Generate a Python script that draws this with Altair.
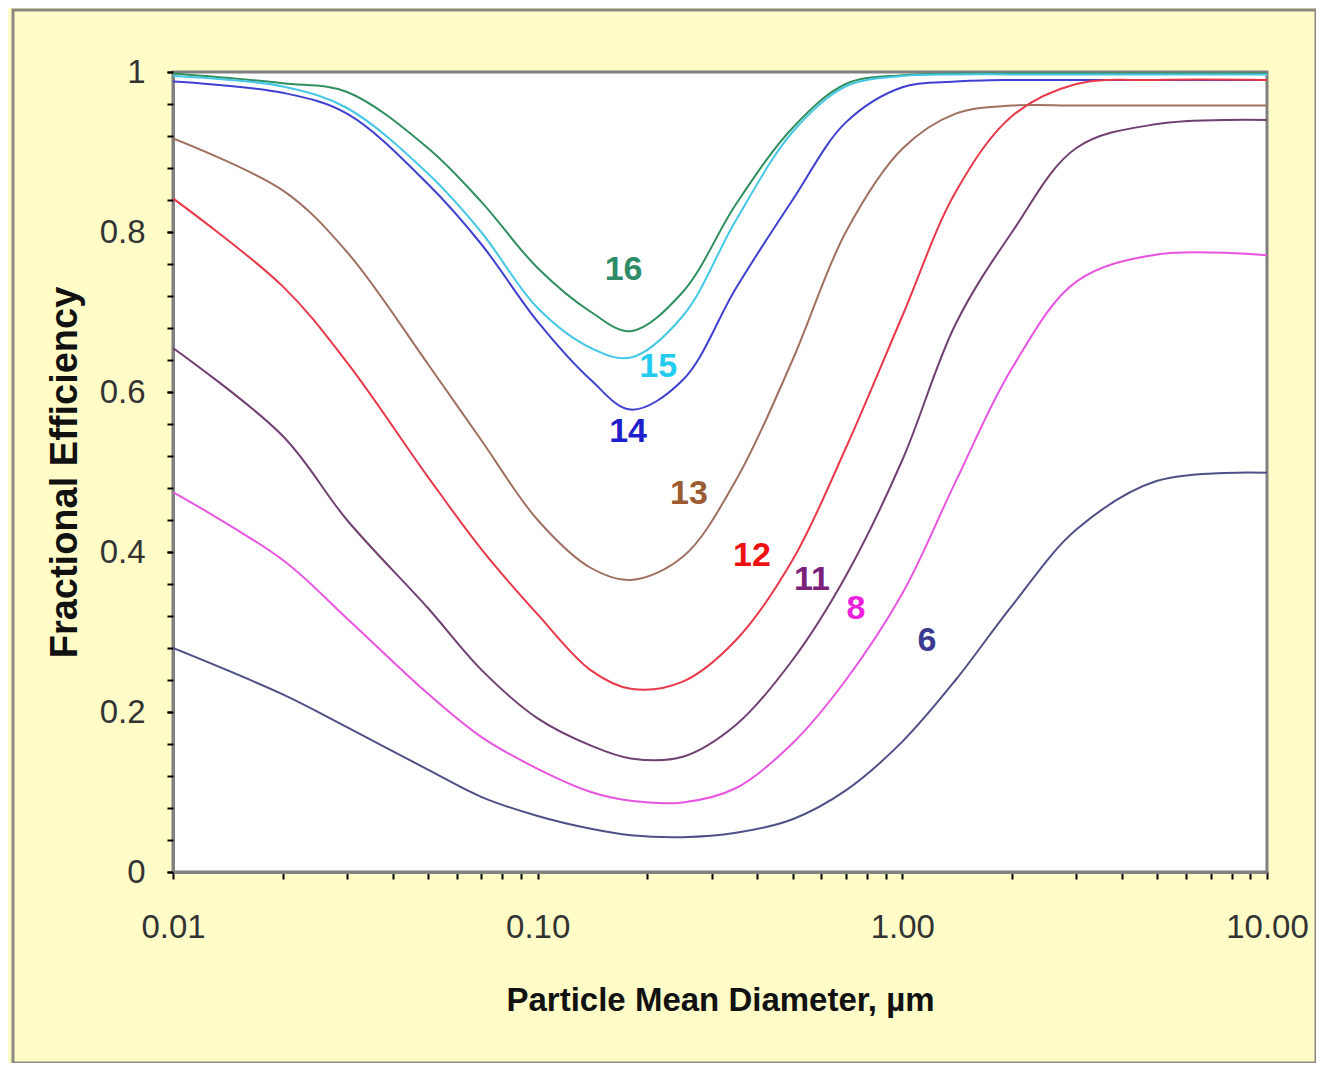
import altair as alt
import pandas as pd

# ---------------- data ----------------
diam = [0.01, 0.02, 0.03, 0.05, 0.07, 0.1, 0.14, 0.18, 0.25, 0.35,
        0.5, 0.7, 1.0, 1.4, 2.0, 3.0, 5.0, 10.0]

eff_16 = [0.998, 0.986, 0.975, 0.905, 0.838, 0.755, 0.700, 0.676, 0.725, 0.835,
          0.930, 0.985, 0.996, 0.998, 0.998, 0.998, 0.998, 0.998]
eff_15 = [0.995, 0.982, 0.955, 0.873, 0.800, 0.705, 0.655, 0.643, 0.695, 0.815,
          0.925, 0.982, 0.995, 0.997, 0.997, 0.997, 0.997, 0.997]
eff_14 = [0.988, 0.974, 0.948, 0.860, 0.785, 0.688, 0.615, 0.578, 0.615, 0.730,
          0.840, 0.937, 0.981, 0.988, 0.990, 0.990, 0.990, 0.990]
eff_13 = [0.917, 0.852, 0.775, 0.635, 0.540, 0.440, 0.380, 0.365, 0.394, 0.490,
          0.640, 0.800, 0.904, 0.948, 0.958, 0.958, 0.958, 0.958]
eff_12 = [0.842, 0.732, 0.637, 0.494, 0.404, 0.322, 0.252, 0.229, 0.238, 0.290,
          0.390, 0.530, 0.695, 0.850, 0.945, 0.985, 0.990, 0.990]
eff_11 = [0.655, 0.545, 0.440, 0.330, 0.253, 0.192, 0.158, 0.142, 0.144, 0.184,
          0.265, 0.370, 0.515, 0.685, 0.800, 0.905, 0.935, 0.940]
eff_8 = [0.475, 0.390, 0.317, 0.223, 0.169, 0.129, 0.100, 0.089, 0.087, 0.105,
         0.161, 0.240, 0.348, 0.488, 0.630, 0.738, 0.772, 0.771]
eff_6 = [0.280, 0.222, 0.181, 0.128, 0.094, 0.070, 0.054, 0.046, 0.0435, 0.049,
         0.066, 0.102, 0.163, 0.240, 0.333, 0.428, 0.489, 0.499]

series_names = ["16", "15", "14", "13", "12", "11", "8", "6"]
series_values = [eff_16, eff_15, eff_14, eff_13, eff_12, eff_11, eff_8, eff_6]
line_colors = ["#2F8F5F", "#45C8E6", "#4040D0", "#A07060",
               "#E8384A", "#704070", "#E855E0", "#505088"]

# curve labels
label_text = ["16", "15", "14", "13", "12", "11", "8", "6"]
label_x = [0.172, 0.214, 0.177, 0.26, 0.387, 0.565, 0.746, 1.168]
label_y = [0.7525, 0.631, 0.55, 0.4725, 0.395, 0.365, 0.329, 0.289]
label_colors = ["#2E8B67", "#22CCEE", "#1F1FCC", "#9B5A32",
                "#EE1111", "#7B207B", "#EE22DD", "#3A3A90"]

x_ticks = [0.01, 0.02, 0.03, 0.04, 0.05, 0.06, 0.07, 0.08, 0.09,
           0.1, 0.2, 0.3, 0.4, 0.5, 0.6, 0.7, 0.8, 0.9,
           1, 2, 3, 4, 5, 6, 7, 8, 9, 10]
x_labelled = [0.01, 0.1, 1, 10]
y_major = [0, 0.2, 0.4, 0.6, 0.8, 1]
y_major_labels = ["0", "0.2", "0.4", "0.6", "0.8", "1"]
y_minor = [0, 0.04, 0.08, 0.12, 0.16, 0.2, 0.24, 0.28, 0.32, 0.36, 0.4,
           0.44, 0.48, 0.52, 0.56, 0.6, 0.64, 0.68, 0.72, 0.76, 0.8,
           0.84, 0.88, 0.92, 0.96, 1]

# ---------------- tables ----------------
rows = []
for name, vals in zip(series_names, series_values):
    for i, (d, v) in enumerate(zip(diam, vals)):
        rows.append({"series": name, "d": d, "eff": v, "order": i})
lines_df = pd.DataFrame(rows)
labels_df = pd.DataFrame({"text": label_text, "d": label_x, "eff": label_y,
                          "series": series_names})

FONT = "Liberation Sans, Arial, sans-serif"
W, H = 1094, 800

y_label_expr = ("[" + ", ".join("'" + s + "'" for s in y_major_labels) + "]"
                "[indexof(" + str(y_major) + ", datum.value)]")

x_enc = alt.X("d:Q",
              scale=alt.Scale(type="log", domain=[0.01, 10], nice=False),
              axis=alt.Axis(values=x_ticks,
                            labelExpr="indexof(" + str(x_labelled) + ", datum.value) >= 0 ? format(datum.value, '.2f') : ''",
                            title="Particle Mean Diameter, \u00b5m",
                            grid=False, domainColor="#808080", domainWidth=3,
                            tickColor="#000000", tickWidth=2, tickSize=7,
                            labelFont=FONT, labelFontSize=33, labelColor="#333333",
                            labelPadding=32, labelFlush=False, labelOverlap=False,
                            titleFont=FONT, titleFontSize=33, titleFontWeight="bold",
                            titleColor="#111111", titlePadding=40))
y_enc = alt.Y("eff:Q",
              scale=alt.Scale(domain=[0, 1], nice=False),
              axis=alt.Axis(values=y_major, labelExpr=y_label_expr,
                            title="Fractional Efficiency",
                            grid=False, domainColor="#808080", domainWidth=3,
                            tickColor="#000000", tickWidth=2, tickSize=6,
                            labelFont=FONT, labelFontSize=33, labelColor="#333333",
                            labelPadding=22, labelOverlap=False, labelFlush=False,
                            titleFont=FONT, titleFontSize=38, titleFontWeight="bold",
                            titleColor="#111111", titlePadding=15, orient="left"))
y_minor_enc = alt.Y("eff:Q",
                    scale=alt.Scale(domain=[0, 1], nice=False),
                    axis=alt.Axis(values=y_minor, labels=False, title="",
                                  grid=False, domain=False,
                                  tickColor="#000000", tickWidth=2, tickSize=6,
                                  orient="left"))

lines = alt.Chart(lines_df).mark_line(strokeWidth=2, interpolate="catmull-rom", clip=True).encode(
    x=x_enc, y=y_enc,
    color=alt.Color("series:N", scale=alt.Scale(domain=series_names, range=line_colors), legend=None),
    order="order:Q",
)

labels = alt.Chart(labels_df).mark_text(font=FONT, fontSize=34, fontWeight="bold").encode(
    x="d:Q", y=y_minor_enc, text="text:N",
    color=alt.Color("series:N", scale=alt.Scale(domain=series_names, range=label_colors), legend=None),
)

frame = alt.Chart(pd.DataFrame({"k": [0]})).mark_rect(
    fill=None, fillOpacity=0, stroke="#8a8a80", strokeWidth=3, clip=False
).encode(x=alt.value(-160), x2=alt.value(1143), y=alt.value(-62), y2=alt.value(991))

chart = alt.layer(frame, lines, labels).resolve_scale(color="independent").resolve_axis(y="independent").properties(
    width=W, height=H,
    padding={"left": 165, "top": 64, "right": 49, "bottom": 191},
    autosize=alt.AutoSizeParams(type="none"),
    background="#FFFCC8",
).configure_view(fill="#FFFFFF", stroke="#808080", strokeWidth=3)

chart.save("out.html", embed_options={"renderer": "svg", "actions": False})
